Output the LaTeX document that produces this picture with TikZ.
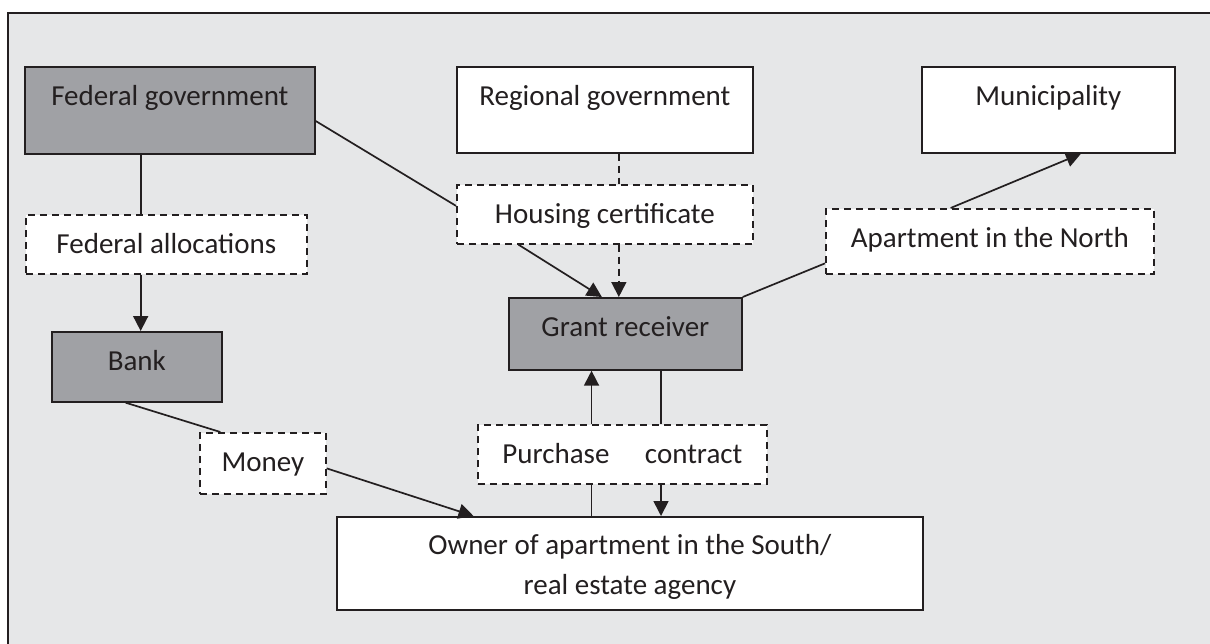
\documentclass[tikz,border=0pt]{standalone}
\usepackage{fontspec}
\setmainfont{Carlito}
\usetikzlibrary{arrows.meta,calc}
\definecolor{framegray}{HTML}{E6E7E8}
\definecolor{boxgray}{HTML}{A0A1A5}
\definecolor{inkgray}{HTML}{231F20}

\begin{document}
\begin{tikzpicture}[x=0.5pt,y=-0.5pt,
        every node/.style = {shape=rectangle, inner sep=0pt, anchor=north west, text=inkgray, font=\fontsize{14.5}{20}\selectfont, align=center, line width=0.85pt},
        lift/.style = {text height=19.5pt, text depth=#1},
        actor/.style = {draw=inkgray, fill=boxgray},
        party/.style = {draw=inkgray, fill=white},
        flow/.style = {draw=inkgray, fill=white, dash pattern=on 3.5pt off 2.5pt},
        link/.style = {draw=inkgray, line width=0.85pt},
        arr/.style = {link, -{Triangle[length=7.5pt,width=7.5pt]}}
    ]
        \useasboundingbox (0,0) rectangle (1210,643);
        \clip (0,0) rectangle (1210,643);
        \fill[white] (0,0) rectangle (1210,643);
        \draw[fill=framegray, draw=inkgray, line width=1.1pt] (8,13) rectangle (1240,680);

        % top row
        \node[actor, lift=24pt, minimum width=145pt] (fedgov) at (24,66) {Federal government};
        \node[party, lift=23.5pt, minimum width=148pt] (regional) at (456,66) {Regional government};
        \node[party, lift=23.5pt, minimum width=126.5pt] (muni) at (921,66) {Municipality};

        % flows
        \node[flow, lift=10pt, minimum width=140.5pt] (fedalloc) at (25,214) {Federal allocations};
        \node[flow, lift=10pt, minimum width=148pt] (housing) at (456,184) {Housing certificate};
        \node[flow, lift=13pt, minimum width=164pt] (aptnorth) at (825,208) {Apartment in the North};

        \node[actor, lift=16.5pt, minimum width=116.5pt] (grant) at (508,297) {Grant receiver};
        \node[actor, lift=15.5pt, minimum width=85pt] (bank) at (51,331) {Bank};

        \node[flow, lift=11pt, minimum width=63pt] (money) at (199,432) {Money};
        \node[flow, lift=10pt, minimum width=144.5pt] (purchase) at (477,424) {Purchase \quad contract};
        \node[party, text height=39pt, text depth=7.5pt, minimum width=293pt] (owner) at (336,516) {Owner of apartment in the South/\\real estate agency};

        % connectors
        \coordinate (f1) at ($(fedgov.south west)!0.4!(fedgov.south east)$);
        \draw[link] (f1) -- (f1 |- fedalloc.north);
        \draw[arr] (f1 |- fedalloc.south) -- (f1 |- bank.north);

        \draw[link] ($(fedgov.north east)!0.62!(fedgov.south east)$) -- ($(housing.north west)!0.36!(housing.south west)$);
        \draw[arr] ($(housing.south west)!0.21!(housing.south east)$) -- ($(grant.north west)!0.4!(grant.north east)$);
        \coordinate (r1) at ($(regional.south west)!0.547!(regional.south east)$);
        \draw[link, dash pattern=on 3.5pt off 2.5pt] (r1) -- (r1 |- housing.north);
        \draw[arr, dash pattern=on 3.5pt off 2.5pt] (r1 |- housing.south) -- (r1 |- grant.north);

        \draw[link] (grant.north east) -- ($(aptnorth.north west)!0.83!(aptnorth.south west)$);
        \draw[arr] ($(aptnorth.north west)!0.381!(aptnorth.north east)$) -- ($(muni.south west)!0.628!(muni.south east)$);

        \draw[link] ($(bank.south west)!0.435!(bank.south east)$) -- ($(money.north west)!0.167!(money.north east)$);
        \draw[arr] ($(money.north east)!0.58!(money.south east)$) -- ($(owner.north west)!0.234!(owner.north east)$);

        \coordinate (p1) at ($(purchase.north west)!0.394!(purchase.north east)$);
        \coordinate (p2) at ($(purchase.north west)!0.633!(purchase.north east)$);
        \draw[arr] (p1) -- (p1 |- grant.south);
        \draw[link] (p2 |- grant.south) -- (p2);
        \draw[link] (p1 |- purchase.south) -- (p1 |- owner.north);
        \draw[arr] (p2 |- purchase.south) -- (p2 |- owner.north);
    \end{tikzpicture}
\end{document}
